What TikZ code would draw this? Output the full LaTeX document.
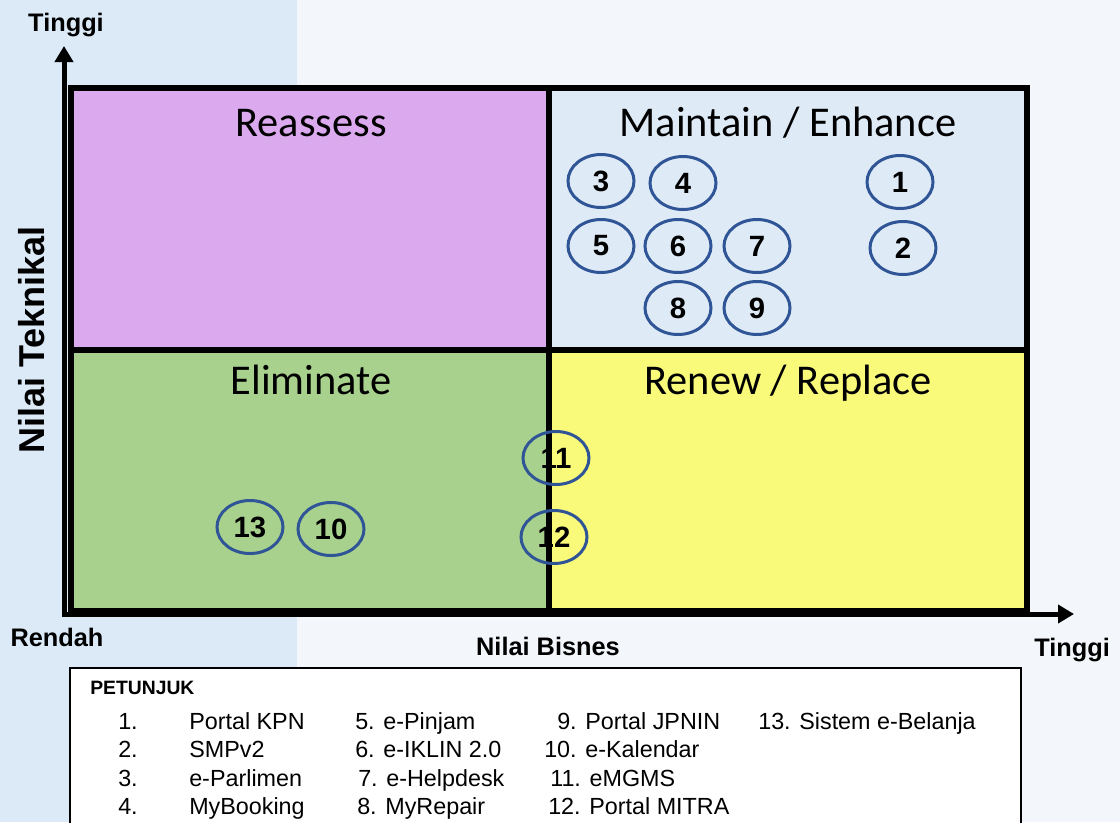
\documentclass[tikz,border=0pt]{standalone}
\usepackage{fontspec}
\setmainfont{Liberation Sans}
\newfontfamily\calibri{Carlito}
\usetikzlibrary{shapes.geometric,arrows.meta}
\definecolor{bgblue}{RGB}{220,234,247}
\definecolor{bgright}{RGB}{243,246,250}
\definecolor{qpurple}{RGB}{218,169,238}
\definecolor{qblue}{RGB}{222,234,246}
\definecolor{qgreen}{RGB}{169,209,142}
\definecolor{qyellow}{RGB}{250,250,122}
\definecolor{ringblue}{RGB}{47,85,151}
\tikzset{
  quadlabel/.style={font=\calibri\fontsize{31.8}{36}\selectfont, anchor=base, inner sep=0},
  axislabel/.style={font=\bfseries\fontsize{19}{22}\selectfont, inner sep=0},
  ring/.style={ellipse, draw=ringblue, line width=2.25pt, minimum width=49.5pt, minimum height=39.75pt, inner sep=0, font=\bfseries\fontsize{22}{26}\selectfont},
  legtext/.style={anchor=base west, inner sep=0, font=\fontsize{17.5}{21}\selectfont},
  gridline/.style={line width=4.5pt},
  axisarrow/.style={line width=3.75pt, -{Triangle[length=12pt,width=13.5pt]}},
}
\begin{document}
\begin{tikzpicture}[x=0.75pt,y=-0.75pt]
\useasboundingbox (0,0) rectangle (1120,822);
% background
\fill[bgright] (0,0) rectangle (1120,822);
\fill[bgblue] (0,0) rectangle (297,822);
% quadrants
\fill[qpurple] (71,88) rectangle (549,350);
\fill[qblue] (549,88) rectangle (1027,350);
\fill[qgreen] (71,350) rectangle (549,611);
\fill[qyellow] (549,350) rectangle (1027,611);
\draw[gridline] (71,88) rectangle (1027,611);
\draw[gridline] (549,88) -- (549,611);
\draw[gridline] (71,350) -- (1027,350);
% axes
\coordinate (origin) at (64,614);
\coordinate (ytip) at (64,46);
\coordinate (xtip) at (1074,614);
\draw[axisarrow] (64,616) -- (ytip);
\draw[axisarrow] (62,614) -- (xtip);
% axis labels
\node[axislabel] (ytop) at (66,25) {Tinggi};
\node[axislabel] (xlow) at (57,637) {Rendah};
\node[axislabel] (xname) at (548,646) {Nilai Bisnes};
\node[axislabel] (xtop) at (1072,650) {Tinggi};
\node[axislabel, font=\bfseries\fontsize{27}{30}\selectfont, rotate=90] (yname) at (32,340) {Nilai Teknikal};
% quadrant labels
\node[quadlabel] (q1) at (311,136) {Reassess};
\node[quadlabel] (q2) at (788,136) {Maintain / Enhance};
\node[quadlabel] (q3) at (311,394) {Eliminate};
\node[quadlabel] (q4) at (788,394) {Renew / Replace};
% rings
\node[ring] (r1) at (900,182) {1};
\node[ring] (r2) at (903,248) {2};
\node[ring] (r3) at (601,181) {3};
\node[ring] (r4) at (683,183) {4};
\node[ring] (r5) at (601,246) {5};
\node[ring] (r6) at (678,246) {6};
\node[ring] (r7) at (757,246) {7};
\node[ring] (r8) at (678,308) {8};
\node[ring] (r9) at (757,308) {9};
\node[ring] (r10) at (331,529) {10};
\node[ring] (r11) at (556,458) {11};
\node[ring] (r12) at (554,537) {12};
\node[ring] (r13) at (250,527) {13};
% legend
\draw[line width=1.5pt, fill=white] (70,668) rectangle (1021,840);
\node[anchor=base west, inner sep=0, font=\bfseries\fontsize{14.5}{17}\selectfont] (leg) at (90,694) {PETUNJUK};
\node[legtext] (l1n) at (118,729) {1.};
\node[legtext] (l1) at (189,729) {Portal KPN};
\node[legtext] (l2n) at (118,757) {2.};
\node[legtext] (l2) at (189,757) {SMPv2};
\node[legtext] (l3n) at (118,786) {3.};
\node[legtext] (l3) at (189,786) {e-Parlimen};
\node[legtext] (l4n) at (118,814) {4.};
\node[legtext] (l4) at (189,814) {MyBooking};
\node[legtext] (l5) at (355,729) {5. e-Pinjam};
\node[legtext] (l6) at (355,757) {6. e-IKLIN 2.0};
\node[legtext] (l7) at (358,786) {7. e-Helpdesk};
\node[legtext] (l8) at (357,814) {8. MyRepair};
\node[legtext] (l9) at (557,729) {9. Portal JPNIN};
\node[legtext] (l10) at (544,757) {10. e-Kalendar};
\node[legtext] (l11) at (550,786) {11. eMGMS};
\node[legtext] (l12) at (548,814) {12. Portal MITRA};
\node[legtext] (l13) at (758,729) {13. Sistem e-Belanja};
\end{tikzpicture}
\end{document}
